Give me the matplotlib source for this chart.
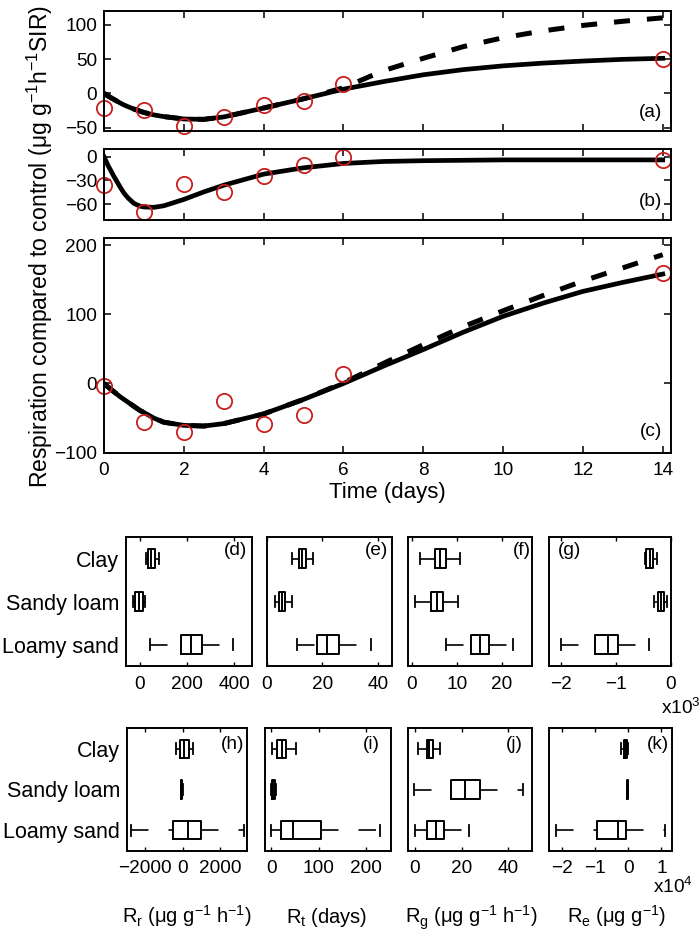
import matplotlib
matplotlib.use('Agg')
import matplotlib.pyplot as plt

plt.rcParams['font.family'] = ['Liberation Sans', 'DejaVu Sans']
plt.rcParams['mathtext.fontset'] = 'custom'
plt.rcParams['mathtext.rm'] = 'Liberation Sans'
plt.rcParams['mathtext.it'] = 'Liberation Sans:italic'
plt.rcParams['mathtext.bf'] = 'Liberation Sans:bold'
plt.rcParams['axes.unicode_minus'] = True

# ---------------- data: time series ----------------
obs_days = [0, 1, 2, 3, 4, 5, 6, 14]
obs_a = [-21, -24, -48, -34, -17, -11, 14, 50]
obs_b = [-36, -70, -34, -44, -24, -10, 0, -4]
obs_c = [-3, -56, -70, -26, -59, -45, 13, 160]

curve_days = [0, 0.1, 0.25, 0.4, 0.5, 0.6, 0.75, 0.9, 1, 1.25, 1.5, 2, 2.5, 3, 4, 5, 6,
              7, 8, 9, 10, 11, 12, 13, 14]
solid_a = [0, -4, -9, -14, -17, -19.5, -23, -26, -28, -31.5, -34, -37.5, -38, -34.5, -21.5,
           -8, 6, 17, 27, 34.5, 40, 44, 47, 49.5, 51]
dashed_a = [0, -4, -9, -14, -17, -19.5, -23, -26, -28, -31.5, -34, -37.5, -38, -34.5, -21.5,
            -8, 8, 33, 51, 68, 81, 91, 99, 105, 110]
solid_b = [0, -11, -25, -38, -46, -52, -59, -62.5, -63.5, -64, -62, -54, -44.5, -36, -22,
           -14, -8.5, -6, -5, -4.5, -4, -4, -4, -4, -4]
solid_c = [0, -5, -12, -19, -23, -27, -33, -39, -42, -50, -56, -60.5, -61.5, -58, -44,
           -23, 0, 25, 49, 74, 97, 116, 133, 146, 158]
dashed_c = [0, -5, -12, -19, -23, -27, -33, -39, -42, -50, -56, -60.5, -61.5, -58, -44,
            -23, 1, 29, 56, 82, 105, 127, 148, 167, 186]

# ---------------- data: box plots ----------------
soils = ['Clay', 'Sandy loam', 'Loamy sand']
# per soil: [lower whisker, q1, median, q3, upper whisker]
Rr_fit = [[29, 36, 50, 64, 81], [-29, -18, -2, 14, 24], [43, 176, 218, 264, 395]]
Rt_fit = [[8.9, 11.6, 12.8, 13.9, 16.7], [2.9, 4.3, 5.4, 6.5, 9.1], [10.7, 17.9, 21.5, 25.9, 37.5]]
Rg_fit = [[1.8, 5.1, 6.2, 7.6, 10.7], [0.7, 4.2, 5.5, 7.0, 10.3], [7.6, 13.0, 15.0, 17.0, 22.5]]
Re_fit = [[-470, -440, -380, -320, -250], [-300, -230, -180, -130, -70], [-2000, -1380, -1130, -950, -400]]
Rr_pert = [[-340, -124, 100, 324, 562], [-90, -70, -40, -10, 0], [-2790, -540, 290, 1010, 3300]]
Rt_pert = [[2, 11, 21.6, 30, 51], [-1.5, 2, 4.5, 7, 9], [-1.5, 19.5, 45, 104.8, 229]]
Rg_pert = [[1.4, 5.0, 6.1, 7.6, 10.7], [-0.3, 15.4, 21.4, 27.9, 46.1], [0, 5.0, 9.0, 12.6, 23.3]]
Re_pert = [[-2300, -1300, -800, -300, 0], [-400, -300, -200, -100, 0], [-21800, -9400, -3200, -700, 11100]]

W, H = 700, 936
fig = plt.figure(figsize=(W / 100, H / 100), dpi=100)


def add_ax(l, t, r, b):
    return fig.add_axes([l / W, 1 - b / H, (r - l) / W, (b - t) / H])


TICK_FS = 13.7
red = '#c8201e'

# ---------------- time series panels ----------------
specs = [
    ((104, 11, 670.7, 131), solid_a, dashed_a, obs_a, (-55, 120), [-50, 0, 50, 100], '(a)', 0.158),
    ((104, 149.3, 670.7, 220), solid_b, None, obs_b, (-80, 9.4), [-60, -30, 0], '(b)', 0.262),
    ((104, 238.3, 670.7, 452.7), solid_c, dashed_c, obs_c, (-100, 209.7), [-100, 0, 100, 200], '(c)', 0.099),
]
line_axes = []
for box, solid, dashed, obs, ylim, yt, lab, ly in specs:
    ax = add_ax(*box)
    if dashed is not None:
        ax.plot(curve_days, dashed, color='black', lw=3.6, ls=(0, (3.2, 3.4)),
                solid_capstyle='butt', dash_capstyle='butt')
    ax.plot(curve_days, solid, color='black', lw=3.4, solid_joinstyle='round')
    ax.plot(obs_days, obs, 'o', mfc='none', mec=red, mew=1.3, ms=11, clip_on=False)
    ax.set_xlim(0, 14.2)
    ax.set_ylim(*ylim)
    ax.set_yticks(yt)
    ax.set_xticks(range(0, 15, 2))
    ax.tick_params(direction='in', top=True, right=True, length=5, width=1.1,
                   labelsize=TICK_FS, pad=5)
    ax.tick_params(axis='x', pad=7)
    for s in ax.spines.values():
        s.set_linewidth(1.4)
    ax.text(0.985, ly, lab, transform=ax.transAxes, ha='right', va='center',
            fontsize=TICK_FS)
    line_axes.append(ax)

line_axes[0].tick_params(labelbottom=False)
line_axes[1].tick_params(labelbottom=False)
line_axes[2].set_xlabel('Time (days)', fontsize=16, labelpad=2)
fig.text(40 / W, 1 - 246 / H,
         'Respiration compared to control (μg g$^{-1}$h$^{-1}$SIR)',
         rotation=90, ha='center', va='center', fontsize=16.6)

# ---------------- box plot panels ----------------
top_row = (537.3, 666)
bot_row = (728.3, 850.7)
box_specs = [
    (Rr_fit, (126, 252.3), top_row, (-57, 475), [0, 200, 400], ['0', '200', '400'], '(d)', 0.775),
    (Rt_fit, (267, 392.3), top_row, (0, 45.2), [0, 20, 40], ['0', '20', '40'], '(e)', 0.78),
    (Rg_fit, (408.3, 532.3), top_row, (-0.8, 26.7), [0, 10, 20], ['0', '10', '20'], '(f)', 0.84),
    (Re_fit, (549, 670.7), top_row, (-2210, 0), [-2000, -1000, 0], ['\u22122', '\u22121', '0'], '(g)', 0.07),
    (Rr_pert, (127.3, 246.7), bot_row, (-2970, 3440), [-2000, 0, 2000], ['\u22122000', '0', '2000'], '(h)', 0.78),
    (Rt_pert, (265, 390.7), bot_row, (-13.4, 251.6), [0, 100, 200], ['0', '100', '200'], '(i)', 0.78),
    (Rg_pert, (408.3, 532.3), bot_row, (-2.9, 50.3), [0, 20, 40], ['0', '20', '40'], '(j)', 0.79),
    (Re_pert, (549, 671.7), bot_row, (-24000, 13100), [-20000, -10000, 0, 10000], ['\u22122', '\u22121', '0', '1'], '(k)', 0.80),
]

ypos = [3, 2, 1]  # Clay on top
for i, (data, (xl, xr), (yt_, yb_), xlim, xt, xtl, lab, lx) in enumerate(box_specs):
    ax = add_ax(xl, yt_, xr, yb_)
    stats = []
    for soil, row in zip(soils, data):
        stats.append(dict(whislo=row[0], q1=row[1], med=row[2], q3=row[3],
                          whishi=row[4], label=soil))
    ax.bxp(stats, positions=ypos, orientation='horizontal', widths=0.45,
           capwidths=0.26, showfliers=False,
           boxprops=dict(color='black', lw=1.4),
           medianprops=dict(color='black', lw=1.4),
           capprops=dict(color='black', lw=1.3),
           whiskerprops=dict(linestyle='none'))
    for y, row in zip(ypos, data):
        ax.plot([row[0], row[1]], [y, y], color='black', lw=1.2,
                ls=(0, (10.5, 12)), dash_capstyle='butt')
        ax.plot([row[3], row[4]], [y, y], color='black', lw=1.2,
                ls=(0, (10.5, 12)), dash_capstyle='butt')
    ax.set_xlim(*xlim)
    ax.set_ylim(0.5, 3.5)
    ax.set_xticks(xt)
    ax.set_xticklabels(xtl)
    ax.tick_params(axis='x', direction='in', top=True, length=3, width=1,
                   labelsize=TICK_FS, pad=7)
    ax.tick_params(axis='y', direction='in', length=0, labelsize=15.5, pad=5)
    if i % 4 == 0:
        ax.set_yticks(ypos)
        ax.set_yticklabels(soils)
    else:
        ax.set_yticks([])
    for s in ax.spines.values():
        s.set_linewidth(1.4)
    yy = 0.90 if i < 4 else 0.87
    ax.text(lx, yy, lab, transform=ax.transAxes, ha='left', va='center',
            fontsize=TICK_FS)

fig.text(661 / W, 1 - 714 / H, 'x10$^{3}$', ha='left', va='baseline', fontsize=TICK_FS)
fig.text(653 / W, 1 - 893 / H, 'x10$^{4}$', ha='left', va='baseline', fontsize=TICK_FS)

bottom_labels = [
    (187, 'R$_\\mathrm{r}$ (μg g$^{-1}$ h$^{-1}$)'),
    (327, 'R$_\\mathrm{t}$ (days)'),
    (471, 'R$_\\mathrm{g}$ (μg g$^{-1}$ h$^{-1}$)'),
    (617, 'R$_\\mathrm{e}$ (μg g$^{-1}$)'),
]
for x, t in bottom_labels:
    fig.text(x / W, 1 - 923 / H, t, ha='center', va='baseline', fontsize=14.5)

fig.savefig('out.png', dpi=100)
